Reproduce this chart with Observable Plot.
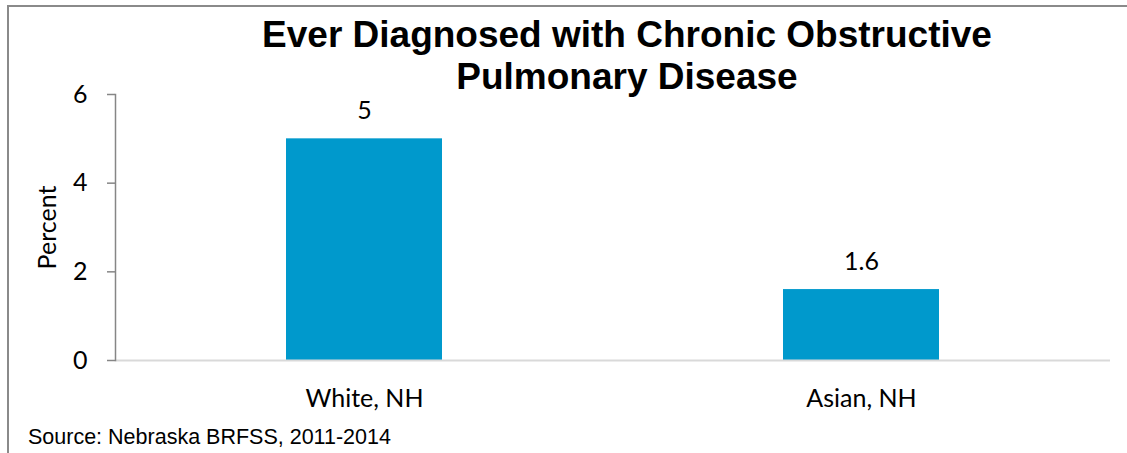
<!DOCTYPE html>
<html>
<head>
<meta charset="utf-8">
<script src="https://cdn.jsdelivr.net/npm/d3@7"></script>
<script src="https://cdn.jsdelivr.net/npm/@observablehq/plot@0.6"></script>
<style>
  html, body { margin: 0; padding: 0; background: #fff; }
  #wrap { position: relative; width: 1127px; height: 453px; overflow: hidden; }
  #frameBox { position: absolute; left: 7px; top: 5px; width: 1200px; height: 500px;
              border-left: 2px solid #8a8a8a; border-top: 2px solid #8a8a8a; }
  #chart { position: absolute; left: 0; top: 0; }
  #title { position: absolute; left: 127px; width: 1000px; top: 14px; text-align: center;
           font-family: "Liberation Sans", Arial, sans-serif; font-weight: bold; font-size: 37px;
           line-height: 42px; color: #000; }
  #source { position: absolute; left: 28px; top: 424px; font-family: "Liberation Sans", Arial, sans-serif;
            font-size: 21.5px; line-height: 26px; color: #000; }
</style>
</head>
<body>
<div id="wrap">
  <div id="frameBox"></div>
  <div id="chart"></div>
  <div id="title">Ever Diagnosed with Chronic Obstructive<br>Pulmonary Disease</div>
  <div id="source">Source: Nebraska BRFSS, 2011-2014</div>
</div>
<script>
const categories = ["White, NH", "Asian, NH"];
const values = [5, 1.6];
const valueLabels = ["5", "1.6"];
const yTicks = [0, 2, 4, 6];
const yLabel = "Percent";

const data = categories.map((c, i) => ({category: c, value: values[i], label: valueLabels[i]}));

const chart = Plot.plot({
  width: 1127,
  height: 453,
  marginLeft: 115,
  marginRight: 17,
  marginTop: 94,
  marginBottom: 93,
  style: {fontFamily: "Lato, 'Open Sans', sans-serif", background: "transparent", color: "#000"},
  x: {domain: categories, paddingInner: 0.686, paddingOuter: 0.343, label: null},
  y: {domain: [0, 6], label: null},
  marks: [
    Plot.barY(data, {x: "category", y: "value", fill: "#0099CC"}),
    Plot.ruleY([0], {stroke: "#d9d9d9", strokeWidth: 2}),
    Plot.frame({anchor: "left", stroke: "#868686", strokeWidth: 1.5}),
    Plot.axisY({ticks: yTicks, tickFormat: d3.format("d"), tickSize: 8, tickPadding: 20, fontSize: 25, stroke: "#868686", strokeWidth: 1.5, label: null}),
    Plot.axisX({tickSize: 0, tickPadding: 29, fontSize: 25, label: null}),
    Plot.text(data, {x: "category", y: "value", text: "label", dy: -28, fontSize: 25}),
    Plot.text([yLabel], {frameAnchor: "left", textAnchor: "middle", dx: -68, rotate: -90, fontSize: 25, text: d => d})
  ]
});
document.getElementById("chart").appendChild(chart);
</script>
</body>
</html>
